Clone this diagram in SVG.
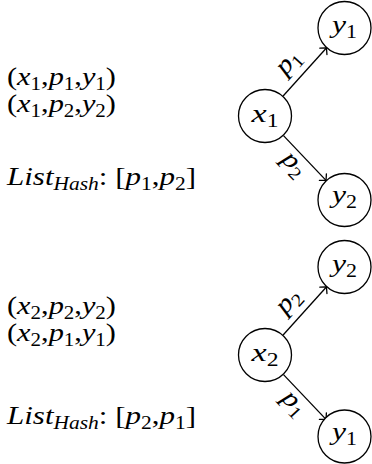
<svg xmlns="http://www.w3.org/2000/svg" width="372" height="464" viewBox="0 0 372 464">
<defs>
<style>
text{font-family:'Liberation Serif','DejaVu Serif',serif;font-size:26px;fill:#000}
.i{font-style:italic}
.s{font-size:18px;font-style:normal}
.si{font-size:18px;font-style:italic}
.node circle{fill:#fff;stroke:#000;stroke-width:1.3}
.node text{text-anchor:middle}
.edge{stroke:#000;stroke-width:1.3;fill:none;marker-end:url(#arr)}
.lbl{text-anchor:middle}
</style>
<marker id="arr" viewBox="-6 -6 8 12" refX="0" refY="0" markerWidth="8" markerHeight="12" markerUnits="userSpaceOnUse" orient="auto" overflow="visible">
<path d="M-4.5,-4.8 Q-1.2,-1.4 0,0 Q-1.2,1.4 -4.5,4.8" fill="none" stroke="#000" stroke-width="1.3" stroke-linecap="round"/>
</marker>
</defs>

<g id="text-top">
<text x="7" y="85" textLength="109" lengthAdjust="spacingAndGlyphs">(<tspan class="i">x</tspan><tspan class="s" dy="5">1</tspan><tspan dy="-5">,</tspan><tspan class="i">p</tspan><tspan class="s" dy="5">1</tspan><tspan dy="-5">,</tspan><tspan class="i">y</tspan><tspan class="s" dy="5">1</tspan><tspan dy="-5">)</tspan></text>
<text x="7" y="112" textLength="109" lengthAdjust="spacingAndGlyphs">(<tspan class="i">x</tspan><tspan class="s" dy="5">1</tspan><tspan dy="-5">,</tspan><tspan class="i">p</tspan><tspan class="s" dy="5">2</tspan><tspan dy="-5">,</tspan><tspan class="i">y</tspan><tspan class="s" dy="5">2</tspan><tspan dy="-5">)</tspan></text>
<text x="7" y="185" textLength="189" lengthAdjust="spacingAndGlyphs"><tspan class="i">List</tspan><tspan class="si" dy="5">Hash</tspan><tspan dy="-5">: [</tspan><tspan class="i">p</tspan><tspan class="s" dy="5">1</tspan><tspan dy="-5">,</tspan><tspan class="i">p</tspan><tspan class="s" dy="5">2</tspan><tspan dy="-5">]</tspan></text>
</g>

<g id="text-bottom">
<text x="7" y="314" textLength="109" lengthAdjust="spacingAndGlyphs">(<tspan class="i">x</tspan><tspan class="s" dy="5">2</tspan><tspan dy="-5">,</tspan><tspan class="i">p</tspan><tspan class="s" dy="5">2</tspan><tspan dy="-5">,</tspan><tspan class="i">y</tspan><tspan class="s" dy="5">2</tspan><tspan dy="-5">)</tspan></text>
<text x="7" y="341" textLength="109" lengthAdjust="spacingAndGlyphs">(<tspan class="i">x</tspan><tspan class="s" dy="5">2</tspan><tspan dy="-5">,</tspan><tspan class="i">p</tspan><tspan class="s" dy="5">1</tspan><tspan dy="-5">,</tspan><tspan class="i">y</tspan><tspan class="s" dy="5">1</tspan><tspan dy="-5">)</tspan></text>
<text x="7" y="424" textLength="189" lengthAdjust="spacingAndGlyphs"><tspan class="i">List</tspan><tspan class="si" dy="5">Hash</tspan><tspan dy="-5">: [</tspan><tspan class="i">p</tspan><tspan class="s" dy="5">2</tspan><tspan dy="-5">,</tspan><tspan class="i">p</tspan><tspan class="s" dy="5">1</tspan><tspan dy="-5">]</tspan></text>
</g>

<g id="connectors">
<line class="edge" x1="283.1" y1="96" x2="326.4" y2="48"/>
<line class="edge" x1="283.5" y1="135.6" x2="326" y2="180.4"/>
<line class="edge" x1="283.1" y1="335" x2="326.4" y2="287"/>
<line class="edge" x1="283.5" y1="374.6" x2="326" y2="419.4"/>
<text class="lbl" transform="translate(293.5,67) rotate(-48)" textLength="25" lengthAdjust="spacingAndGlyphs"><tspan class="i">p</tspan><tspan class="s" dy="5">1</tspan></text>
<text class="lbl" transform="translate(289,169) rotate(46.6)" textLength="25" lengthAdjust="spacingAndGlyphs"><tspan class="i">p</tspan><tspan class="s" dy="5">2</tspan></text>
<text class="lbl" transform="translate(293.5,306) rotate(-48)" textLength="25" lengthAdjust="spacingAndGlyphs"><tspan class="i">p</tspan><tspan class="s" dy="5">2</tspan></text>
<text class="lbl" transform="translate(289,408) rotate(46.6)" textLength="25" lengthAdjust="spacingAndGlyphs"><tspan class="i">p</tspan><tspan class="s" dy="5">1</tspan></text>
</g>

<g id="x1" class="node"><circle cx="265" cy="116" r="26.5"/><text x="265" y="122" textLength="27" lengthAdjust="spacingAndGlyphs"><tspan class="i">x</tspan><tspan class="s" dy="5">1</tspan></text></g>
<g id="y1-top" class="node"><circle cx="344.5" cy="28" r="26.5"/><text x="344.5" y="33" textLength="25" lengthAdjust="spacingAndGlyphs"><tspan class="i">y</tspan><tspan class="s" dy="5">1</tspan></text></g>
<g id="y2-top" class="node"><circle cx="344.5" cy="200" r="26.5"/><text x="344.5" y="203" textLength="25" lengthAdjust="spacingAndGlyphs"><tspan class="i">y</tspan><tspan class="s" dy="5">2</tspan></text></g>

<g id="x2" class="node"><circle cx="265" cy="355" r="26.5"/><text x="265" y="361" textLength="27" lengthAdjust="spacingAndGlyphs"><tspan class="i">x</tspan><tspan class="s" dy="5">2</tspan></text></g>
<g id="y2-bottom" class="node"><circle cx="344.5" cy="267" r="26.5"/><text x="344.5" y="272" textLength="25" lengthAdjust="spacingAndGlyphs"><tspan class="i">y</tspan><tspan class="s" dy="5">2</tspan></text></g>
<g id="y1-bottom" class="node"><circle cx="344.5" cy="436.5" r="26.5"/><text x="344.5" y="440" textLength="25" lengthAdjust="spacingAndGlyphs"><tspan class="i">y</tspan><tspan class="s" dy="5">1</tspan></text></g>
</svg>
